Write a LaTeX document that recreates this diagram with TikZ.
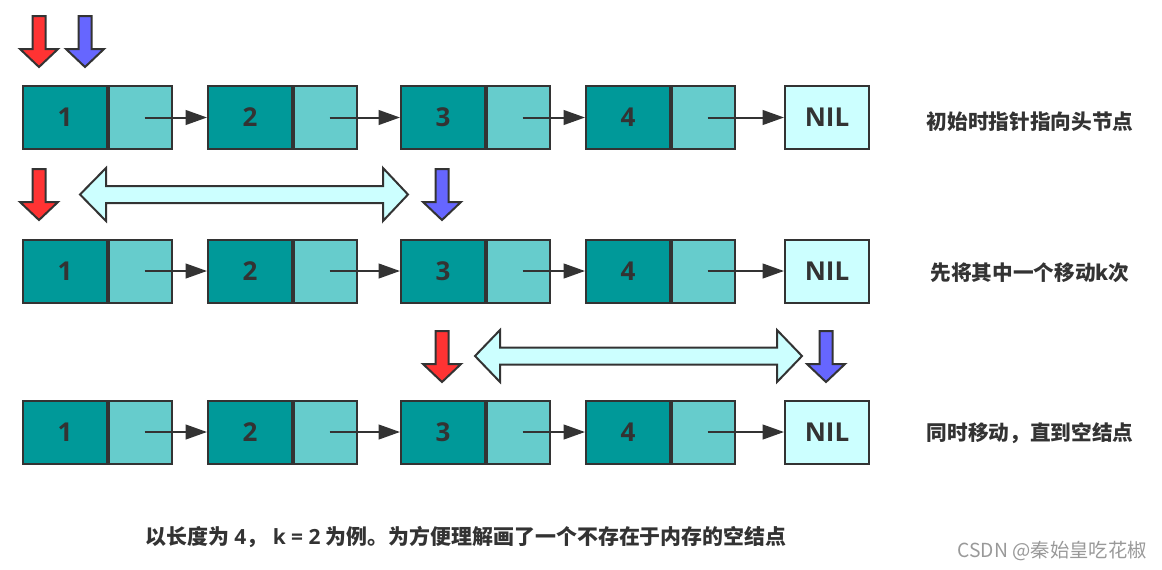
\documentclass[tikz,border=0pt]{standalone}
\usepackage{fontspec}
\setmainfont{Open Sans}
\newfontfamily\cjk{Noto Sans CJK SC}
\newcommand\latpart[1]{{\rmfamily\bfseries #1}}
\usetikzlibrary{arrows.meta}
\definecolor{lc}{HTML}{333333}
\definecolor{dark}{HTML}{009999}
\definecolor{light}{HTML}{66CCCC}
\definecolor{nilc}{HTML}{CCFFFF}
\definecolor{redp}{HTML}{FF3333}
\definecolor{bluep}{HTML}{6666FF}
\definecolor{wm}{HTML}{999999}
\tikzset{
  cell/.style={draw=lc, line width=1.5pt, minimum height=47.25pt, inner sep=0pt, anchor=west,
    font=\fontsize{19.5}{19.5}\selectfont\bfseries, text=lc},
  datacell/.style={cell, fill=dark, minimum width=63pt},
  ptrcell/.style={cell, fill=light, minimum width=47.25pt},
  nilcell/.style={cell, fill=nilc, minimum width=63pt},
  link/.style={draw=lc, line width=1.5pt, -{Triangle[length=16pt,width=11pt]}},
  note/.style={font=\cjk\bfseries\fontsize{15.5}{15.5}\selectfont, text=lc},
  downptr/.pic={
    \path[pic actions, draw=lc, line width=1.5pt, line join=miter]
      (-6.5,0) -- (6.5,0) -- (6.5,33) -- (19,33) -- (0,51) -- (-19,33) -- (-6.5,33) -- cycle;
  },
  fatarrow/.style={draw=lc, fill=nilc, line width=1.5pt, line join=miter},
}
\begin{document}
\begin{tikzpicture}[x=0.75pt,y=-0.75pt]
\useasboundingbox (0,0) rectangle (1162,569);

% rows of list nodes
\foreach \r/\cy in {1/117.5, 2/271, 3/432}{
  \node[datacell] (d\r-1) at (22,\cy) {1};
  \node[ptrcell] (p\r-1) at (d\r-1.east) {};
  \node[datacell] (d\r-2) at (207,\cy) {2};
  \node[ptrcell] (p\r-2) at (d\r-2.east) {};
  \node[datacell] (d\r-3) at (400,\cy) {3};
  \node[ptrcell] (p\r-3) at (d\r-3.east) {};
  \node[datacell] (d\r-4) at (585,\cy) {4};
  \node[ptrcell] (p\r-4) at (d\r-4.east) {};
  \node[nilcell] (n\r) at (784,\cy) {NIL};
  \draw[link] ([xshift=3pt]p\r-1.center) -- (d\r-2.west);
  \draw[link] ([xshift=3pt]p\r-2.center) -- (d\r-3.west);
  \draw[link] ([xshift=3pt]p\r-3.center) -- (d\r-4.west);
  \draw[link] ([xshift=3pt]p\r-4.center) -- (n\r.west);
}

% pointers
\pic[fill=redp] at (39,16) {downptr};
\pic[fill=bluep] at (85,16) {downptr};
\pic[fill=redp] at (39,169) {downptr};
\pic[fill=bluep] at (442,169) {downptr};
\pic[fill=redp] at (442,331) {downptr};
\pic[fill=bluep] at (826,331) {downptr};

% distance arrows
\path[fatarrow] (80,194.5) -- (106,168) -- (106,186) -- (383,186) -- (383,168) -- (408,194.5)
  -- (383,221) -- (383,203) -- (106,203) -- (106,221) -- cycle;
\path[fatarrow] (475,356) -- (500,330) -- (500,347.5) -- (777,347.5) -- (777,330) -- (802,356)
  -- (777,382) -- (777,364.5) -- (500,364.5) -- (500,382) -- cycle;

% notes
\node[note] (t1) at (1030,122) {初始时指针指向头节点};
\node[note] (t2) at (1030,273) {先将其中一个移动k次};
\node[note] (t3) at (1030,433) {同时移动，直到空结点};
\node[note, font=\cjk\bfseries\fontsize{15.7}{15.7}\selectfont, anchor=west, inner sep=0pt] (cap) at (145,537)
  {以长度为\latpart{ 4}，\latpart{ k = 2 }为例。为方便理解画了一个不存在于内存的空结点};
\node[font=\cjk\fontsize{14.5}{14.5}\selectfont, text=wm, anchor=east, inner sep=0pt] (wmk) at (1147,551) {CSDN @秦始皇吃花椒};
\end{tikzpicture}
\end{document}
